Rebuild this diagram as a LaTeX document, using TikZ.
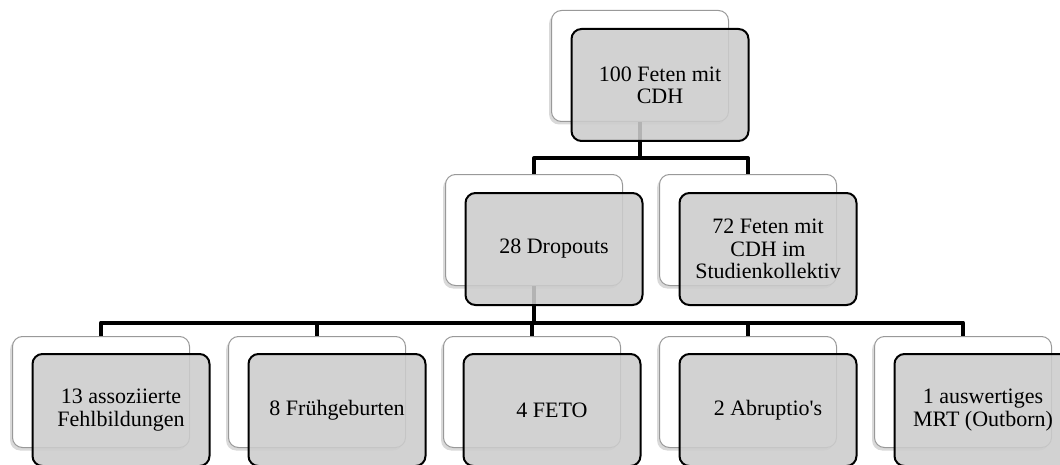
\documentclass[tikz,border=0pt]{standalone}
\usepackage{fontspec}
\setmainfont{Liberation Serif}
\usetikzlibrary{shadows}

\begin{document}
\begin{tikzpicture}[
    x=0.5pt, y=-0.5pt,
    line join=round,
    backbox/.style={draw=black!40, line width=0.5pt, fill=white, rounded corners=5pt,
      minimum width=88.5pt, minimum height=55.5pt, inner sep=0pt,
      drop shadow={shadow xshift=-1.2pt, shadow yshift=-1.5pt, opacity=0.3}},
    frontbox/.style={draw=black, line width=1pt, fill=black!20, fill opacity=0.88,
      text opacity=1, rounded corners=5pt, minimum width=88.5pt, minimum height=56pt,
      inner sep=2pt, align=center, font=\fontsize{11}{11.2}\selectfont},
    link/.style={line width=2pt},
  ]

  % ---------- frame (px of the reference) ----------
  \useasboundingbox (0,0) rectangle (1060,465);
  \clip (0,0) rectangle (1060,465);

  % ---------- back boxes ----------
  \node[backbox] (rootB) at (640,66) {};
  \node[backbox] (dropB) at (534,230) {};
  \node[backbox] (kollB) at (748,230) {};
  \foreach \cx/\nm in {101/assoz,317/frueh,532/feto,748/abr,963/mrt}
    \node[backbox] (\nm B) at (\cx,392) {};

  % ---------- connectors (under the front boxes) ----------
  \draw[link] (rootB.south) -- ++(0,36) -| (dropB.north);
  \draw[link] (rootB.south) -- ++(0,36) -| (kollB.north);
  \foreach \nm in {assoz,frueh,feto,abr,mrt}
    \draw[link] (dropB.south) -- ++(0,36.5) -| (\nm B.north);

  % ---------- front boxes with the counts ----------
  \node[frontbox] (rootF) at (660,85) {100 Feten mit\\CDH};
  \node[frontbox] (dropF) at (554,249) {28 Dropouts};
  \node[frontbox] (kollF) at (768,249) {72 Feten mit\\CDH im\\Studienkollektiv};
  \foreach \cx/\nm/\txt in {101/assoz/{13 assoziierte\\Fehlbildungen},
      317/frueh/{8 Frühgeburten}, 532/feto/{4 FETO},
      748/abr/{2 Abruptio\textquotesingle s}, 963/mrt/{1 auswertiges\\MRT (Outborn)}}
    \node[frontbox] (\nm F) at (\cx+20,410) {\txt};

\end{tikzpicture}
\end{document}
